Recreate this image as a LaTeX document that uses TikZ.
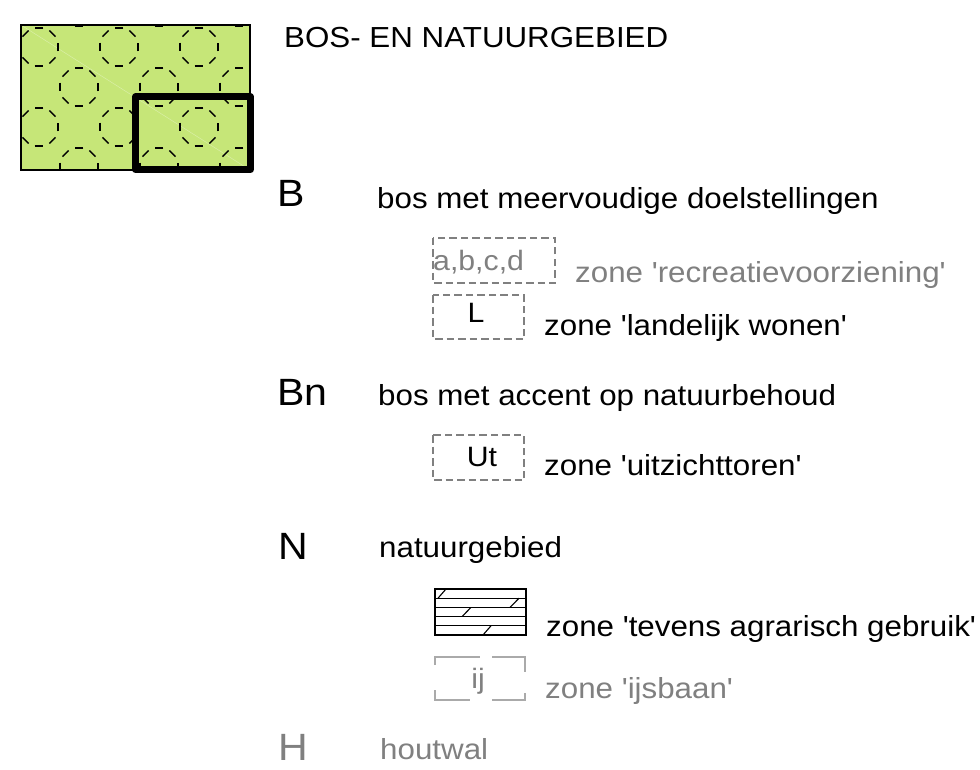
\documentclass[tikz,border=0pt]{standalone}
\usepackage{fontspec}
\setmainfont{Liberation Sans}[FakeStretch=1.08,Ligatures=TeXOff]
\usetikzlibrary{calc}
\definecolor{forestgreen}{RGB}{198,230,120}
\definecolor{zonegray}{RGB}{128,128,128}
\definecolor{faintgray}{RGB}{170,170,170}
\begin{document}
\begin{tikzpicture}[x=1pt,y=-1pt,
  body/.style={anchor=base west,inner sep=0,font=\fontsize{29}{32}\selectfont},
  big/.style={anchor=base west,inner sep=0,font=\fontsize{38}{40}\selectfont},
  boxtext/.style={anchor=base,inner sep=0,font=\fontsize{28}{30}\selectfont},
  grey/.style={text=zonegray},
  zonebox/.style={draw=zonegray,line width=1.7pt,dash pattern=on 7.5pt off 4pt},
  octdash/.style={line width=1.4pt},
  hatch/.style={line width=1.1pt},
  icebox/.style={draw=faintgray,line width=1.1pt},
]
\useasboundingbox (0,0) rectangle (980,770);

% ---- legend swatch ----
\begin{scope}
  \clip (21,25) rectangle (250,170);
  \fill[forestgreen] (21,25) rectangle (250,170);
  \draw[white,opacity=0.35,line width=0.5pt] (21,25) -- (250,170);
  \foreach \cy in {7,87,167} {
    \foreach \cx in {79,159,239} {
      \foreach \a in {0,45,...,315} {
        \draw[octdash] ($(\cx,\cy)+(\a:19)+(\a+90:4.3)$) -- ($(\cx,\cy)+(\a:19)+(\a-90:4.3)$);
      }
    }
  }
  \foreach \cy in {47,127} {
    \foreach \cx in {39,119,199} {
      \foreach \a in {0,45,...,315} {
        \draw[octdash] ($(\cx,\cy)+(\a:19)+(\a+90:4.3)$) -- ($(\cx,\cy)+(\a:19)+(\a-90:4.3)$);
      }
    }
  }
\end{scope}
\draw[line width=1.5pt] (21,25) rectangle (250,170);
\draw[line width=7pt,line join=round] (135.5,97) rectangle (250.5,169.5);

% ---- title ----
\node[body] (title) at (284,48) {BOS- EN NATUURGEBIED};

% ---- B ----
\node[big] (B) at (277,207) {B};
\node[body] (Btxt) at (377,209) {bos met meervoudige doelstellingen};

\draw[zonebox] (433,238) rectangle (555,283);
\node[boxtext,grey,anchor=base west] (abcd) at (433,270) {a,b,c,d};
\node[body,grey] (recr) at (575,283) {zone 'recreatievoorziening'};

\draw[zonebox] (433,295) rectangle (524,339);
\node[boxtext] (L) at (476,322) {L};
\node[body] (land) at (544,335) {zone 'landelijk wonen'};

% ---- Bn ----
\node[big] (Bn) at (277,405) {Bn};
\node[body] (Bntxt) at (378,405) {bos met accent op natuurbehoud};

\draw[zonebox] (433,435) rectangle (524,480);
\node[boxtext] (Ut) at (482,466) {Ut};
\node[body] (uitz) at (544,475) {zone 'uitzichttoren'};

% ---- N ----
\node[big] (N) at (278,559) {N};
\node[body] (Ntxt) at (379,557) {natuurgebied};

\draw[hatch] (435,589) rectangle (526,635);
\foreach \yy in {598.2,607.4,616.6,625.8} {
  \draw[hatch] (435,\yy) -- (526,\yy);
}
\draw[hatch] (438,598.2) -- (446,589);
\draw[hatch] (510,607.4) -- (519,598.2);
\draw[hatch] (462,616.6) -- (471,607.4);
\draw[hatch] (483,635) -- (491,625.8);
\node[body] (agr) at (546,636) {zone 'tevens agrarisch gebruik'};

\draw[icebox] (435,665) -- (435,657) -- (480,657);
\draw[icebox] (492,657) -- (525,657) -- (525,672);
\draw[icebox] (435,690) -- (435,700) -- (470,700);
\draw[icebox] (492,700) -- (525,700) -- (525,693);
\node[boxtext,grey] (ij) at (478,688) {ij};
\node[body,grey] (ijs) at (545,698) {zone 'ijsbaan'};

% ---- H ----
\node[big,grey] (H) at (278,760) {H};
\node[body,grey] (Htxt) at (380,759) {houtwal};
\end{tikzpicture}
\end{document}
